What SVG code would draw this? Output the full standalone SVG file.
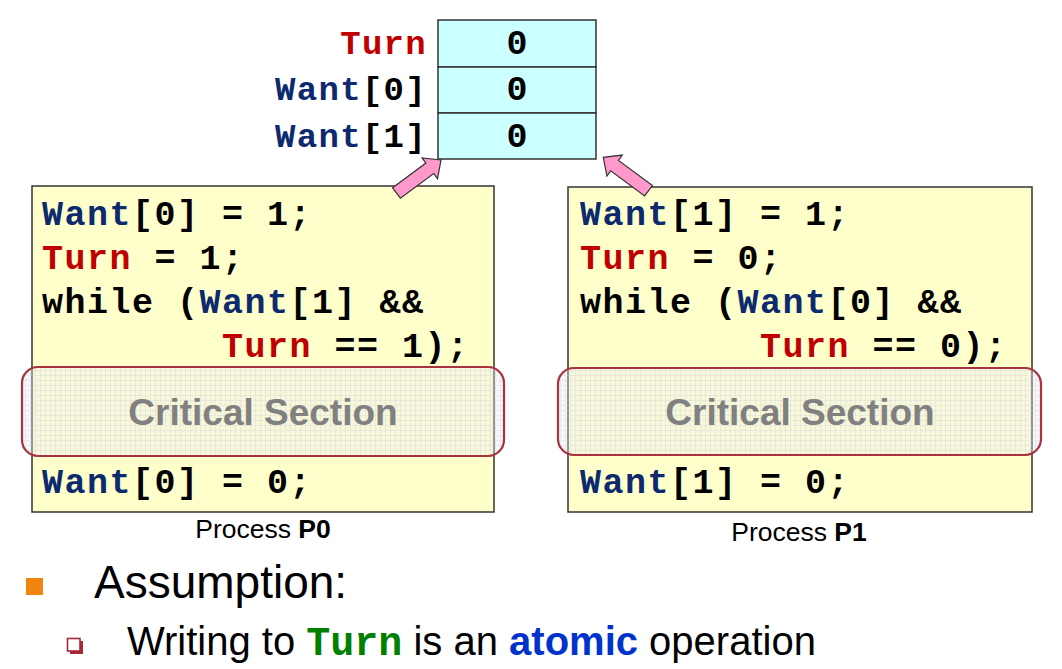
<svg xmlns="http://www.w3.org/2000/svg" width="1062" height="669" viewBox="0 0 1062 669">
<style>
.code{font-family:"Liberation Mono","Courier New",monospace;font-weight:bold;font-size:35px;letter-spacing:1.5px;fill:#000}
.lbl{font-family:"Liberation Mono","Courier New",monospace;font-weight:bold;font-size:34px;letter-spacing:1.3px}
.val{font-family:"Liberation Mono","Courier New",monospace;font-weight:bold;font-size:35px;fill:#000}
.want{fill:#0D2A6E}
.turn{fill:#C00000}
.box{fill:#FFFFCC;stroke:#333;stroke-width:1.5}
.cell{fill:#CCFFFF;stroke:#333;stroke-width:1.5}
.cs{fill:url(#grid);stroke:#A8323E;stroke-width:2.2}
.cst{font-family:"Liberation Sans",Arial,sans-serif;font-weight:bold;font-size:37px;fill:#808080}
.proc{font-family:"Liberation Sans",Arial,sans-serif;font-size:26.5px;fill:#000}
.arrow{fill:#FF99CC;stroke:#333;stroke-width:1.2;stroke-linejoin:miter}
.sans{font-family:"Liberation Sans",Arial,sans-serif;fill:#000}
</style>
<defs>
<pattern id="grid" width="5" height="5" patternUnits="userSpaceOnUse">
<rect width="5" height="5" fill="#E6E6F0" fill-opacity="0.35"/>
<path d="M0 0.5H5M0.5 0V5" stroke="#C8C8DA" stroke-width="0.6" stroke-opacity="0.5"/>
</pattern>
</defs>

<g id="table">
<rect class="cell" x="438" y="20" width="158" height="47"/>
<rect class="cell" x="438" y="67" width="158" height="46"/>
<rect class="cell" x="438" y="113" width="158" height="46"/>
<text class="lbl turn" x="427" y="54" text-anchor="end">Turn</text>
<text class="lbl" x="427" y="100" text-anchor="end"><tspan class="want">Want</tspan><tspan fill="#000">[0]</tspan></text>
<text class="lbl" x="427" y="147" text-anchor="end"><tspan class="want">Want</tspan><tspan fill="#000">[1]</tspan></text>
<text class="val" x="517" y="54" text-anchor="middle">0</text>
<text class="val" x="517" y="100" text-anchor="middle">0</text>
<text class="val" x="517" y="147" text-anchor="middle">0</text>
</g>

<g id="p0">
<rect class="box" x="32" y="186" width="462" height="326"/>
<text class="code" xml:space="preserve" x="42" y="225"><tspan class="want">Want</tspan>[0] = 1;</text>
<text class="code" xml:space="preserve" x="42" y="269"><tspan class="turn">Turn</tspan> = 1;</text>
<text class="code" xml:space="preserve" x="42" y="313">while (<tspan class="want">Want</tspan>[1] &amp;&amp;</text>
<text class="code" xml:space="preserve" x="222" y="357"><tspan class="turn">Turn</tspan> == 1);</text>
<rect class="cs" x="22" y="367" width="482" height="89" rx="16"/>
<text class="cst" x="263" y="425" text-anchor="middle">Critical Section</text>
<text class="code" xml:space="preserve" x="42" y="493"><tspan class="want">Want</tspan>[0] = 0;</text>
<text class="proc" xml:space="preserve" x="263" y="538" text-anchor="middle">Process <tspan font-weight="bold">P0</tspan></text>
</g>

<g id="p1">
<rect class="box" x="568" y="187" width="464" height="325"/>
<text class="code" xml:space="preserve" x="580" y="225"><tspan class="want">Want</tspan>[1] = 1;</text>
<text class="code" xml:space="preserve" x="580" y="269"><tspan class="turn">Turn</tspan> = 0;</text>
<text class="code" xml:space="preserve" x="580" y="313">while (<tspan class="want">Want</tspan>[0] &amp;&amp;</text>
<text class="code" xml:space="preserve" x="760" y="357"><tspan class="turn">Turn</tspan> == 0);</text>
<rect class="cs" x="558" y="368" width="483" height="87" rx="16"/>
<text class="cst" x="800" y="425" text-anchor="middle">Critical Section</text>
<text class="code" xml:space="preserve" x="580" y="493"><tspan class="want">Want</tspan>[1] = 0;</text>
<text class="proc" xml:space="preserve" x="799" y="541" text-anchor="middle">Process <tspan font-weight="bold">P1</tspan></text>
</g>

<g id="connectors">
<polygon class="arrow" points="392.6,187.8 425.9,163.1 422.1,157.9 441,160 437.5,178.7 433.7,173.5 400.4,198.2"/>
<polygon class="arrow" points="652.4,185.5 618.5,160.4 622.3,155.1 603.3,157.3 606.9,176.1 610.7,170.8 644.6,195.9"/>
</g>

<g id="bullets">
<rect x="26" y="578" width="17" height="17" fill="#F28410"/>
<text class="sans" x="94" y="598" font-size="46">Assumption:</text>
<rect x="70" y="641" width="13" height="13" fill="#A8283A"/>
<rect x="67.5" y="638.5" width="12.5" height="12.5" fill="#fff" stroke="#A8283A" stroke-width="1.6"/>
<text class="sans" xml:space="preserve" x="127" y="655" font-size="40">Writing to <tspan font-family="Liberation Mono,Courier New,monospace" font-weight="bold" fill="#008000">Turn</tspan> is an <tspan font-weight="bold" fill="#0033CC">atomic</tspan> operation</text>
</g>
</svg>
